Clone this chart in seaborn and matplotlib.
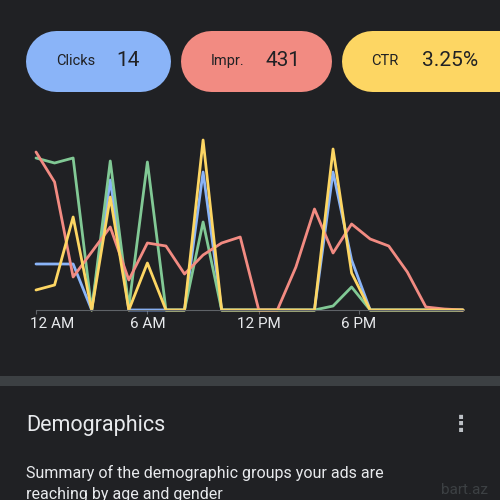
import pandas as pd
import seaborn as sns
import matplotlib.pyplot as plt
from matplotlib.patches import Rectangle
from matplotlib.transforms import ScaledTranslation

# hourly values (normalised heights as seen on the chart)
hours = list(range(24))
clicks = [46, 46, 46, 0, 130, 0, 0, 0, 0, 138, 0, 0, 0, 0, 0, 0, 138, 50, 0, 0, 0, 0, 0, 0]
conversions = [152, 147, 152, 0, 149, 3, 148, 0, 0, 88, 0, 0, 0, 0, 0, 0, 4, 23, 0, 0, 0, 0, 0, 0]
impressions = [158, 128, 33, 58, 83, 30, 67, 64, 36, 55, 67, 73, 0, 0, 43, 101, 57, 86, 71, 64, 38, 3, 1, 0]
ctr = [20, 25, 93, 0, 113, 0, 47, 0, 0, 170, 0, 0, 0, 0, 0, 0, 161, 37, 0, 0, 0, 0, 0, 0]

tick_pos = [0, 6, 12, 17.4]
tick_labels = ["12 AM", "6 AM", "12 PM", "6 PM"]

pill_names = ["Clicks", "Impr.", "CTR"]
pill_values = ["14", "431", "3.25%"]

bg = "#202124"
colors = {"Clicks": "#8ab4f8", "Conversions": "#81c995", "Impressions": "#f28b82", "CTR": "#fdd663"}

df = pd.DataFrame({"hour": hours, "Clicks": clicks, "Conversions": conversions,
                   "Impressions": impressions, "CTR": ctr})
long_df = df.melt(id_vars="hour", var_name="metric", value_name="value")

sns.set_theme(style="dark")
plt.rcParams["font.family"] = ["Roboto", "DejaVu Sans"]

fig = plt.figure(figsize=(5, 5), dpi=100, facecolor=bg)

# overlay in pixel coordinates for the card decorations
ov = fig.add_axes([0, 0, 1, 1])
ov.set_xlim(0, 500)
ov.set_ylim(500, 0)
ov.axis("off")
ov.set_facecolor(bg)

# pills drawn as thick round-capped strokes (61 px tall)
pill_boxes = [(25, 145), (180, 151), (341, 190)]
pill_cols = [colors["Clicks"], colors["Impressions"], colors["CTR"]]
label_x = [76, 228, 385]
value_x = [128, 283, 450]
cap_lw = 61 * 72 / 100
for (x0, w), c, name, val, lx, vx in zip(pill_boxes, pill_cols, pill_names, pill_values, label_x, value_x):
    ov.plot([x0 + 30.5, x0 + w - 30.5], [60.5, 60.5], color=c, lw=cap_lw,
            solid_capstyle="round")
    ov.text(lx, 61, name, ha="center", va="center", fontsize=10.5, color="#202124")
    ov.text(vx, 61, val, ha="center", va="center", fontsize=15, color="#202124")

# divider band
ov.add_patch(Rectangle((0, 376), 500, 10, fc="#3c4043", ec="none"))

ov.text(26, 425, "Demographics", ha="left", va="center", fontsize=15.5, color="#e8eaed")
ov.text(461, 425, "⋮", ha="center", va="center", fontsize=16, color="#bdc1c6",
        family=["DejaVu Sans"], fontweight="bold")
ov.text(26, 473, "Summary of the demographic groups your ads are", ha="left", va="center",
        fontsize=11.5, color="#e8eaed")
ov.text(26, 494, "reaching by age and gender", ha="left", va="center",
        fontsize=11.5, color="#e8eaed")
ov.text(488, 490, "bart.az", ha="right", va="center", fontsize=11, color="#3c4043")

# line chart
ax = fig.add_axes([36 / 500, 190 / 500, 427 / 500, 172 / 500])
ax.set_facecolor("none")
sns.lineplot(data=long_df, x="hour", y="value", hue="metric",
             hue_order=["Clicks", "Conversions", "Impressions", "CTR"],
             palette=colors, linewidth=2, legend=False, ax=ax)
ax.set_xlim(0, 23)
ax.set_ylim(0, 172)
ax.set_xlabel("")
ax.set_ylabel("")
ax.set_yticks([])
ax.set_xticks(tick_pos)
ax.set_xticklabels(tick_labels)
for spine in ["top", "right", "left"]:
    ax.spines[spine].set_visible(False)
ax.spines["bottom"].set_color("#5f6368")
ax.spines["bottom"].set_linewidth(0.8)
ax.tick_params(axis="x", colors="#e8eaed", labelsize=11, length=3, width=0.8,
               pad=2, color="#5f6368", bottom=True)
ax.grid(False)
for line in ax.get_lines():
    line.set_clip_on(False)

# nudge the first tick label so it starts just left of the axis origin
fig.canvas.draw()
first = ax.xaxis.get_major_ticks()[0].label1
first.set_horizontalalignment("left")
first.set_transform(first.get_transform() + ScaledTranslation(-6 / 100, 0, fig.dpi_scale_trans))

fig.savefig("out.png", dpi=100, facecolor=bg)
